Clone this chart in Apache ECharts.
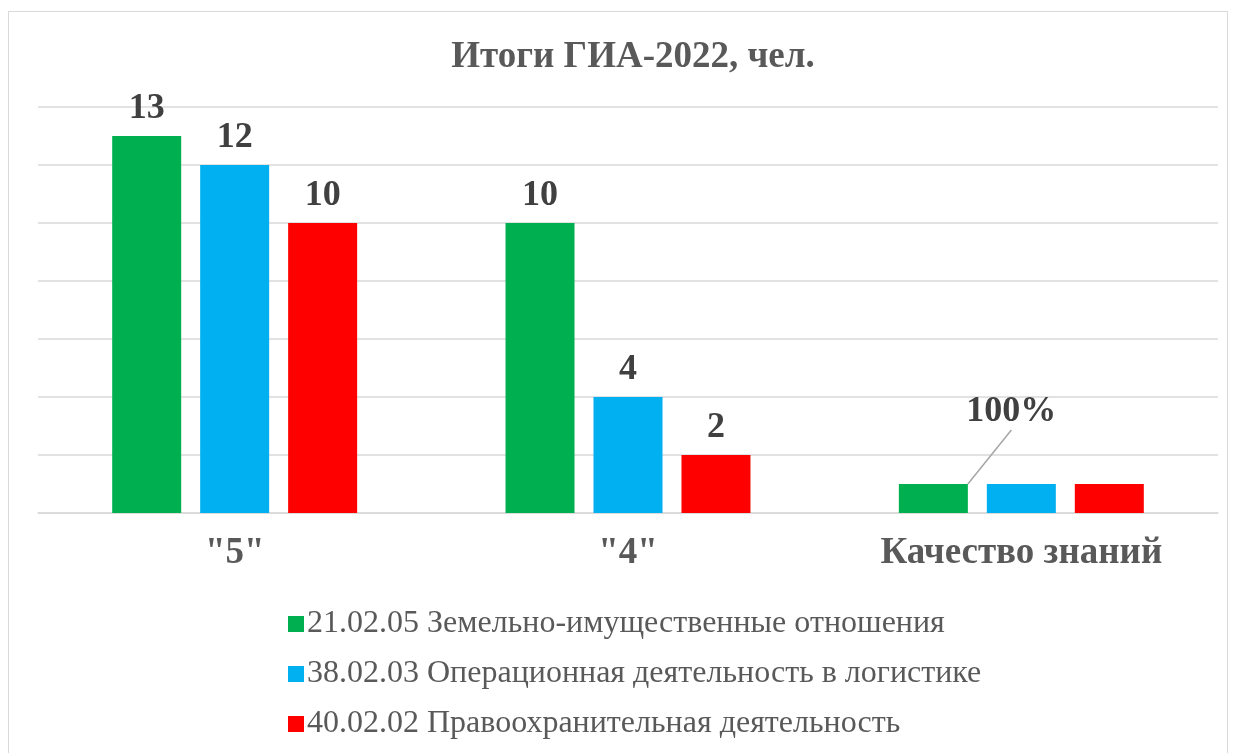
<!DOCTYPE html>
<html>
<head>
<meta charset="utf-8">
<script src="https://cdn.jsdelivr.net/npm/echarts@6/dist/echarts.min.js"></script>
<style>
html,body{margin:0;padding:0;background:#fff;}
#frame{position:absolute;left:8px;top:11px;width:1220px;height:760px;border:1.5px solid #d9d9d9;box-sizing:border-box;}
#chart{position:absolute;left:0;top:0;width:1235px;height:753px;}
</style>
</head>
<body>
<div id="frame"></div>
<div id="chart"></div>
<script>
const categories = ['"5"', '"4"', 'Качество знаний'];
const seriesNames = [
  '21.02.05 Земельно-имущественные отношения',
  '38.02.03 Операционная деятельность в логистике',
  '40.02.02 Правоохранительная деятельность'
];
const valuesZem = [13, 10, 1];
const valuesOper = [12, 4, 1];
const valuesPravo = [10, 2, 1];
const qualityLabel = '100%';
const colors = ['#00B050', '#00B0F0', '#FF0000'];

const chart = echarts.init(document.getElementById('chart'), null, {renderer: 'canvas'});
const font = '"Liberation Serif", "Times New Roman", serif';
const labelStyle = {show: true, position: 'top', distance: 9, fontFamily: font, fontWeight: 'bold', fontSize: 36, color: '#404040'};

function buildData(vals, withQualityLabel) {
  return vals.map((v, i) => {
    if (i === 2) {
      if (withQualityLabel) {
        return {value: v, label: {show: true, formatter: qualityLabel, padding: [0, 0, 28, 0]}, labelLine: {show: true, lineStyle: {color: '#a6a6a6', width: 1.5}}};
      }
      return {value: v, label: {show: false}};
    }
    return v;
  });
}

const allVals = [valuesZem, valuesOper, valuesPravo];
chart.setOption({
  animation: false,
  title: {
    text: 'Итоги ГИА-2022, чел.',
    left: 628, top: 34, textAlign: 'center',
    textStyle: {fontFamily: font, fontWeight: 'bold', fontSize: 37, color: '#595959'}
  },
  grid: {left: 38, right: 17, top: 107, bottom: 240, containLabel: false},
  legend: {
    orient: 'vertical', left: 283, top: 603, itemGap: 18,
    itemWidth: 16, itemHeight: 16, icon: 'rect',
    textStyle: {fontFamily: font, fontSize: 32, color: '#595959', padding: [0, 0, 0, -2]},
    data: seriesNames
  },
  xAxis: {
    type: 'category', data: categories,
    axisLine: {show: true, lineStyle: {color: '#d9d9d9', width: 1.5}},
    axisTick: {show: false},
    axisLabel: {fontFamily: font, fontWeight: 'bold', fontSize: 37, color: '#595959', margin: 22}
  },
  yAxis: {
    type: 'value', min: 0, max: 14, interval: 2,
    axisLabel: {show: false}, axisLine: {show: false}, axisTick: {show: false},
    splitLine: {lineStyle: {color: '#d9d9d9', width: 1.5}}
  },
  series: seriesNames.map((name, k) => ({
    name, type: 'bar', barWidth: 69, barGap: '27.5%',
    itemStyle: {color: colors[k]},
    label: labelStyle,
    labelLine: {show: false},
    labelLayout: function (params) {
      if (params.dataIndex === 2) {
        return {dx: 78, dy: -17};
      }
      return {};
    },
    data: buildData(allVals[k], k === 0)
  }))
});
</script>
</body>
</html>
